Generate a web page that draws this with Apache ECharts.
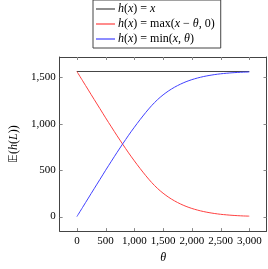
<!DOCTYPE html>
<html><head><meta charset="utf-8">
<script src="https://cdn.jsdelivr.net/npm/echarts@6/dist/echarts.min.js"></script>
<style>html,body{margin:0;padding:0;background:#fff}#c{width:268px;height:269px}</style>
</head><body><div id="c"></div>
<script>
// ---- data ----
const theta = [0,100,200,300,400,500,600,700,800,900,1000,1100,1200,1300,1400,1500,1600,1700,1800,1900,2000,2100,2200,2300,2400,2500,2600,2700,2800,2900,3000];
const redVals = [1562,1462,1362,1262,1163,1063,966,870,777,686,600,518,440,368,305,252,207,169,137,110,88,70,55,43,33,25,19,14,10,7,5];
const blueVals = [0,100,200,300,399,499,596,692,785,876,962,1044,1122,1194,1257,1310,1355,1393,1425,1452,1474,1492,1507,1519,1529,1537,1543,1548,1552,1555,1557];
const blackTheta = [0,3000];
const blackVals = [1562,1562];
const xTicks = [0,500,1000,1500,2000,2500,3000];
const yTicks = [0,500,1000,1500];
const seriesNames = ['id','call','put'];
const legendLabels = {
  id: '{i|h}({i|x}) = {i|x}',
  call: '{i|h}({i|x}) = max({i|x} − {i|θ}, 0)',
  put: '{i|h}({i|x}) = min({i|x}, {i|θ})'
};
// ---- chart ----
const fmt = v => Number(v).toLocaleString('en-US');
const pairs = (xs, ys) => xs.map((x,i)=>[x, ys[i]]);
const serif = 'Liberation Serif';
const rich = { i: { fontFamily: serif, fontStyle: 'italic', fontSize: 12, color: '#000' } };
const chart = echarts.init(document.getElementById('c'), null, {renderer:'canvas'});
const axLine = { show: true, onZero: false, lineStyle: { color: '#444', width: 1 } };
const TICK_LEN = 3, TICK_COLOR = '#888';
function tickRender(isX) {
  return function (params, api) {
    const cs = params.coordSys;
    const v = api.value(isX ? 0 : 1);
    const st = { stroke: TICK_COLOR, lineWidth: 1, fill: null };
    if (isX) {
      const x = Math.round(api.coord([v, 0])[0]) + 0.5;
      const yb = cs.y + cs.height, yt = cs.y;
      return { type: 'group', children: [
        { type: 'line', shape: { x1: x, y1: yb, x2: x, y2: yb - TICK_LEN }, style: st },
        { type: 'line', shape: { x1: x, y1: yt, x2: x, y2: yt + TICK_LEN }, style: st }
      ]};
    } else {
      const y = Math.round(api.coord([0, v])[1]) + 0.5;
      const xl = cs.x, xr = cs.x + cs.width;
      return { type: 'group', children: [
        { type: 'line', shape: { x1: xl, y1: y, x2: xl + TICK_LEN, y2: y }, style: st },
        { type: 'line', shape: { x1: xr, y1: y, x2: xr - TICK_LEN, y2: y }, style: st }
      ]};
    }
  };
}
chart.setOption({
  animation: false,
  grid: { left: 51, right: 1.5, top: 57, bottom: 32.5, show: false },
  legend: {
    data: seriesNames, orient: 'vertical', left: 93, top: 0,
    borderColor: '#444', borderWidth: 1, padding: [3, 6, 3, 3], itemGap: 3,
    itemWidth: 19, itemHeight: 1.2, icon: 'rect',
    formatter: n => legendLabels[n],
    textStyle: { fontFamily: serif, fontSize: 12, color: '#000', rich: rich, padding: [0,0,0,-2] }
  },
  xAxis: [
    { type: 'value', min: -300, max: 3300, position: 'bottom',
      axisLine: axLine, splitLine: { show: false }, axisTick: { show: false },
      axisLabel: { customValues: xTicks, formatter: fmt, fontFamily: serif, fontSize: 11, color: '#000', margin: 5 },
      name: '{i|θ}', nameLocation: 'middle', nameGap: 20,
      nameTextStyle: { fontFamily: serif, fontSize: 12, rich: rich } },
    { type: 'value', min: -300, max: 3300, position: 'top',
      axisLine: axLine, splitLine: { show: false }, axisTick: { show: false },
      axisLabel: { show: false } }
  ],
  yAxis: [
    { type: 'value', min: -156, max: 1718, position: 'left',
      axisLine: axLine, splitLine: { show: false }, axisTick: { show: false },
      axisLabel: { customValues: yTicks, formatter: fmt, fontFamily: serif, fontSize: 11, color: '#000', margin: 4 },
      name: '𝔼({i|h}({i|L}))', nameLocation: 'middle', nameGap: 35, nameRotate: 90,
      nameTextStyle: { fontFamily: serif, fontSize: 12, color: '#000', rich: rich } },
    { type: 'value', min: -156, max: 1718, position: 'right',
      axisLine: axLine, splitLine: { show: false }, axisTick: { show: false },
      axisLabel: { show: false } }
  ],
  series: [
    { name: 'xticks', type: 'custom', silent: true, clip: false, z: 1,
      renderItem: tickRender(true), data: xTicks.map(v => [v, 0]) },
    { name: 'yticks', type: 'custom', silent: true, clip: false, z: 1,
      renderItem: tickRender(false), data: yTicks.map(v => [0, v]) },
    { name: 'id', type: 'line', symbol: 'none', data: pairs(blackTheta, blackVals),
      lineStyle: { color: '#444', width: 1 }, itemStyle: { color: '#444' }, z: 2 },
    { name: 'call', type: 'line', symbol: 'none', smooth: 0.3, data: pairs(theta, redVals),
      lineStyle: { color: '#ff4040', width: 1 }, itemStyle: { color: '#ff4040' }, z: 3 },
    { name: 'put', type: 'line', symbol: 'none', smooth: 0.3, data: pairs(theta, blueVals),
      lineStyle: { color: '#4040ff', width: 1 }, itemStyle: { color: '#4040ff' }, z: 4 }
  ]
});
</script></body></html>
